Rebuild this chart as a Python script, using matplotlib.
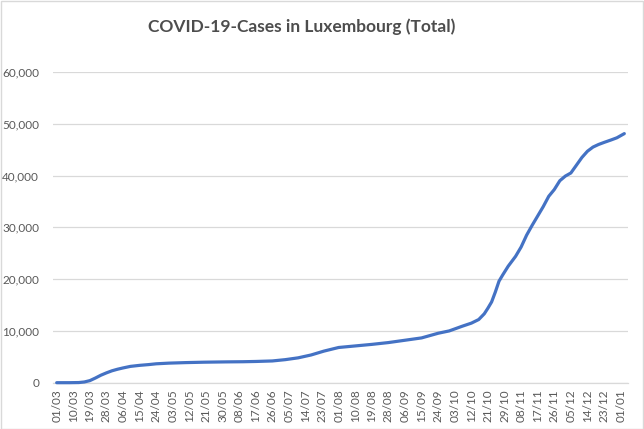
import numpy as np
import pandas as pd
import matplotlib
matplotlib.use("Agg")
import matplotlib.pyplot as plt
from matplotlib.ticker import FuncFormatter

# values (cumulative cases)
dates = [
    "2020-03-01", "2020-03-08", "2020-03-13", "2020-03-16", "2020-03-19", "2020-03-22",
    "2020-03-25", "2020-03-28", "2020-03-31", "2020-04-03", "2020-04-06", "2020-04-10",
    "2020-04-15", "2020-04-20", "2020-04-24", "2020-05-01", "2020-05-10", "2020-05-20",
    "2020-06-01", "2020-06-10", "2020-06-17", "2020-06-26", "2020-07-03", "2020-07-10",
    "2020-07-17", "2020-07-24", "2020-08-01", "2020-08-10", "2020-08-19", "2020-08-28",
    "2020-09-06", "2020-09-15", "2020-09-24", "2020-09-30", "2020-10-07", "2020-10-12",
    "2020-10-16", "2020-10-19", "2020-10-21", "2020-10-23", "2020-10-25", "2020-10-27",
    "2020-10-29", "2020-11-01", "2020-11-05", "2020-11-08", "2020-11-11", "2020-11-14",
    "2020-11-17", "2020-11-20", "2020-11-23", "2020-11-26", "2020-11-29", "2020-12-02",
    "2020-12-05", "2020-12-08", "2020-12-11", "2020-12-14", "2020-12-17", "2020-12-20",
    "2020-12-23", "2020-12-27", "2020-12-30", "2021-01-03",
]
cases = [
    0, 3, 30, 140, 400, 900,
    1450, 1900, 2300, 2600, 2850, 3150,
    3350, 3500, 3650, 3780, 3880, 3960,
    4020, 4050, 4100, 4200, 4450, 4800,
    5350, 6100, 6800, 7100, 7400, 7750,
    8200, 8650, 9550, 10000, 10900, 11500,
    12200, 13300, 14400, 15600, 17500, 19600,
    20800, 22500, 24400, 26200, 28500, 30400,
    32200, 34000, 36000, 37300, 39000, 39900,
    40500, 42000, 43500, 44700, 45500, 46000,
    46400, 46900, 47300, 48100,
]
# category labels as printed in the reference (every 9th row of the sheet)
x_labels = ["01/03", "10/03", "19/03", "28/03", "06/04", "15/04", "24/04", "03/05",
            "12/05", "21/05", "30/05", "08/06", "17/06", "26/06", "05/07", "14/07",
            "23/07", "01/08", "10/08", "19/08", "28/08", "06/09", "15/09", "24/09",
            "03/10", "12/10", "21/10", "29/10", "08/11", "17/11", "26/11", "05/12",
            "14/12", "23/12", "01/01"]
y_ticks = [0, 10000, 20000, 30000, 40000, 50000, 60000]
title = "COVID-19-Cases in Luxembourg (Total)"

plt.rcParams['font.family'] = ['Lato', 'DejaVu Sans']
grey = '#595959'

start = pd.Timestamp("2020-03-01")
day_idx = [(pd.Timestamp(d) - start).days for d in dates]
label_pos = [9 * i for i in range(len(x_labels))]

fig = plt.figure(figsize=(6.44, 4.29), dpi=100)
ax = fig.add_axes([53 / 644, (429 - 382.7) / 429, 575 / 644, (382.7 - 72) / 429])

ax.plot(day_idx, cases, color='#4472C4', linewidth=2.3, solid_capstyle='round',
        solid_joinstyle='round', clip_on=False, zorder=3)

ax.set_xlim(-2, 310)
ax.set_ylim(0, 60000)
ax.set_yticks(y_ticks)
ax.yaxis.set_major_formatter(FuncFormatter(lambda v, p: f"{int(v):,}"))
ax.set_xticks(label_pos)
ax.set_xticklabels(x_labels, rotation=90)
ax.tick_params(axis='both', length=0, colors=grey, labelsize=8.5)
ax.tick_params(axis='x', pad=5)
ax.tick_params(axis='y', pad=10)
ax.grid(axis='y', color='#D9D9D9', linewidth=0.9)
ax.set_axisbelow(True)
for side in ['top', 'right', 'left']:
    ax.spines[side].set_visible(False)
ax.spines['bottom'].set_color('#D9D9D9')
ax.spines['bottom'].set_linewidth(0.9)

fig.text(0.469, 1 - 27 / 429, title, ha='center', va='center', fontsize=12.5,
         fontweight='bold', color='#4d4d4d')

# light frame around the chart
fig.patches.append(plt.Rectangle((0.001, 0.001), 0.997, 0.997, transform=fig.transFigure,
                                 fill=False, edgecolor='#D9D9D9', linewidth=1))

fig.savefig("out.png", dpi=100)
